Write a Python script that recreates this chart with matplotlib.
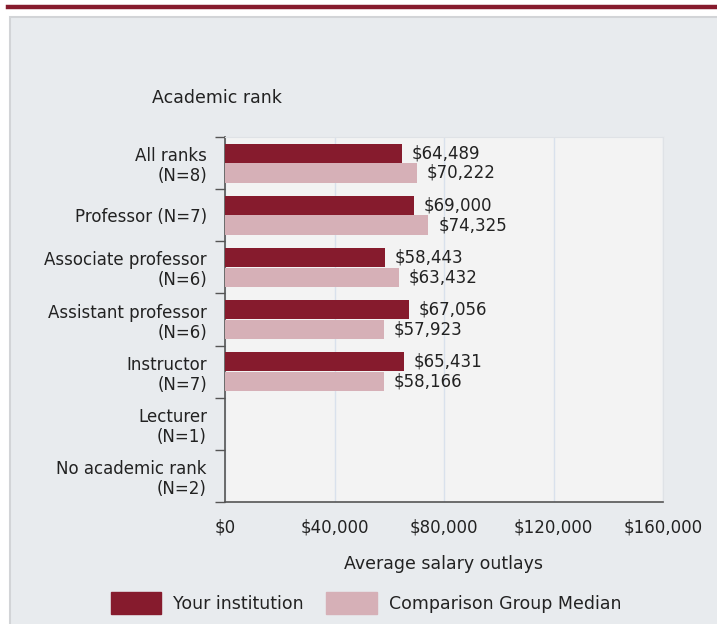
import matplotlib.pyplot as plt
import matplotlib.patches as mpatches
import matplotlib.lines as mlines
import numpy as np

ranks = ['All ranks\n(N=8)', 'Professor (N=7)', 'Associate professor\n(N=6)',
         'Assistant professor\n(N=6)', 'Instructor\n(N=7)', 'Lecturer\n(N=1)',
         'No academic rank\n(N=2)']
your_inst = [64489, 69000, 58443, 67056, 65431, None, None]
comp_median = [70222, 74325, 63432, 57923, 58166, None, None]
xticks = [0, 40000, 80000, 120000, 160000]

dark = '#861b2d'
light = '#d6b0b7'
text_col = '#222222'
fs = 12

fig = plt.figure(figsize=(7.17, 6.24), dpi=100)
fig.patch.set_facecolor('white')

# grey panel + top rule
fig.patches.append(mpatches.Rectangle((10 / 717, -0.01), 1.0, 1 - 17 / 624 + 0.01,
                                      transform=fig.transFigure, facecolor='#e8ebee',
                                      edgecolor='#d2d4d7', linewidth=1.5, zorder=-5))
fig.lines.append(mlines.Line2D([8 / 717, 1], [1 - 7 / 624, 1 - 7 / 624],
                               transform=fig.transFigure, color=dark, linewidth=3.2,
                               zorder=-5))

ax = fig.add_axes([225 / 717, 1 - 502 / 624, 438 / 717, 365 / 624])
ax.set_facecolor('#f3f3f3')

y = np.arange(len(ranks))
h = 0.37
off = 0.19
for i in range(len(ranks)):
    if your_inst[i] is not None:
        ax.barh(y[i] - off, your_inst[i], height=h, color=dark, zorder=3)
        ax.annotate(f'${your_inst[i]:,}', (your_inst[i], y[i] - off), xytext=(7, 0),
                    textcoords='offset points', ha='left', va='center',
                    fontsize=fs, color=text_col)
    if comp_median[i] is not None:
        ax.barh(y[i] + off, comp_median[i], height=h, color=light, zorder=3)
        ax.annotate(f'${comp_median[i]:,}', (comp_median[i], y[i] + off), xytext=(7, 0),
                    textcoords='offset points', ha='left', va='center',
                    fontsize=fs, color=text_col)

ax.set_xlim(0, 160000)
ax.set_ylim(len(ranks) - 0.5, -0.5)
ax.set_xticks(xticks)
ax.set_xticklabels([f'${v:,}' for v in xticks], fontsize=fs, color=text_col)
ax.set_yticks(y)
ax.set_yticklabels(ranks, fontsize=fs, color=text_col, ha='right',
                   multialignment='right', linespacing=1.15)
ax.set_yticks(np.arange(len(ranks) + 1) - 0.5, minor=True)
ax.tick_params(axis='y', which='major', length=0, pad=13)
ax.tick_params(axis='y', which='minor', length=7, color='#555555', width=1)
ax.tick_params(axis='x', length=0, pad=12)

ax.grid(axis='x', color='#d9e1ec', linewidth=1, zorder=1)
for s in ['top', 'right']:
    ax.spines[s].set_color('#dfe2e6')
for s in ['left', 'bottom']:
    ax.spines[s].set_color('#555555')
    ax.spines[s].set_linewidth(1.2)

ax.set_xlabel('Average salary outlays', fontsize=12.5, color=text_col, labelpad=13)
fig.text(152 / 717, 1 - 98 / 624, 'Academic rank', fontsize=12.5, color=text_col,
         ha='left', va='center')

handles = [mpatches.Patch(color=dark, label='Your institution'),
           mpatches.Patch(color=light, label='Comparison Group Median')]
fig.legend(handles=handles, loc='center', bbox_to_anchor=(366 / 717, 1 - 603 / 624),
           ncol=2, frameon=False, fontsize=12.5, handlelength=2.9, handleheight=1.5,
           handletextpad=0.7, columnspacing=1.3, labelcolor=text_col)

fig.savefig('out.png', dpi=100)
